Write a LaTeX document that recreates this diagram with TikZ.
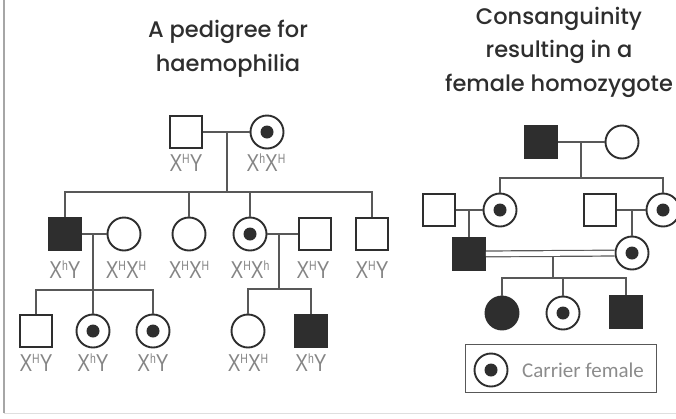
\documentclass[tikz,border=0pt]{standalone}
\usepackage{fontspec}
\setmainfont{Liberation Sans}
\IfFontExistsTF{Poppins Medium}
  {\newfontfamily\titlefont{Poppins Medium}}
  {\newfontfamily\titlefont{Poppins}}
\newfontfamily\labelfont{Liberation Sans}
\newfontfamily\keyfont{Carlito}
\definecolor{ink}{HTML}{2E2E2E}
\definecolor{genocol}{HTML}{858585}
% genotype text: X with a raised allele letter
\newcommand\al[1]{\raisebox{6.4pt}{\fontsize{11}{11}\selectfont #1}}
\newcommand\gt[1]{\scalebox{0.95}[1.22]{\labelfont\fontsize{20}{20}\selectfont #1}}
\begin{document}
\begin{tikzpicture}[x=1pt,y=-1pt,
  sym/.style={draw=ink, line width=1.9pt, inner sep=0pt},
  male/.style={sym, rectangle, minimum size=32pt},
  female/.style={sym, circle, minimum size=33pt},
  affected/.style={fill=ink},
  carrier/.style={female, path picture={\fill[ink] (path picture bounding box.center) circle (6.5pt);}},
  link/.style={draw=ink!80, line width=1.2pt},
  geno/.style={text=genocol, inner sep=0pt},
  title/.style={font=\titlefont\fontsize{22.5}{33.5}\selectfont, text=ink, align=center, inner sep=0pt}
]
\useasboundingbox (0,0) rectangle (676,418);
% frame
\draw[gray!70, line width=1.5pt] (4,0) -- (4,413);
\draw[gray!25, line width=1pt] (4,413) -- (676,413);

% ---------- haemophilia pedigree ----------
\node[title] (t1) at (228,49) {A pedigree for\\haemophilia};

% generation I
\node[male] (a1) at (186,132) {};
\node[carrier] (a2) at (267,132) {};
\draw[link] (a1) -- (a2);
\coordinate (m1) at (227,132);
\coordinate (s1) at (227,192);
\draw[link] (m1) -- (s1);
\node[geno] (la1) at (186,163) {\gt{X\al{H}Y}};
\node[geno] (la2) at (266,163) {\gt{X\al{h}X\al{H}}};

% generation II
\node[male, affected] (b1) at (65,234) {};
\node[female] (b2) at (124,234) {};
\node[female] (b3) at (189,234) {};
\node[carrier] (b4) at (250,234) {};
\node[male] (b5) at (315,234) {};
\node[male] (b6) at (372,234) {};
\draw[link] (b1.north) -- (b1.north |- s1) -- (b6.north |- s1) -- (b6.north);
\draw[link] (b3.north) -- (b3.north |- s1);
\draw[link] (b4.north) -- (b4.north |- s1);
\node[geno] (lb1) at (65,270) {\gt{X\al{h}Y}};
\node[geno] (lb2) at (126,270) {\gt{X\al{H}X\al{H}}};
\node[geno] (lb3) at (189,270) {\gt{X\al{H}X\al{H}}};
\node[geno] (lb4) at (250,270) {\gt{X\al{H}X\al{h}}};
\node[geno] (lb5) at (313,270) {\gt{X\al{H}Y}};
\node[geno] (lb6) at (372,270) {\gt{X\al{H}Y}};

% first marriage and children
\draw[link] (b1) -- (b2);
\coordinate (m2) at (93,234);
\coordinate (s2) at (93,290);
\draw[link] (m2) -- (s2);
\node[male] (c1) at (36,331) {};
\node[carrier] (c2) at (93,331) {};
\node[carrier] (c3) at (153,331) {};
\draw[link] (c1.north) -- (c1.north |- s2) -- (c3.north |- s2) -- (c3.north);
\draw[link] (s2) -- (c2.north);
\node[geno] (lc1) at (36,363) {\gt{X\al{H}Y}};
\node[geno] (lc2) at (93,363) {\gt{X\al{h}Y}};
\node[geno] (lc3) at (153,363) {\gt{X\al{h}Y}};

% second marriage and children
\draw[link] (b4) -- (b5);
\coordinate (m3) at (279,234);
\coordinate (s3) at (279,289);
\draw[link] (m3) -- (s3);
\node[female] (c4) at (248,331) {};
\node[male, affected] (c5) at (311,331) {};
\draw[link] (c4.north) -- (c4.north |- s3) -- (c5.north |- s3) -- (c5.north);
\node[geno] (lc4) at (248,363) {\gt{X\al{H}X\al{H}}};
\node[geno] (lc5) at (311,363) {\gt{X\al{h}Y}};

% ---------- consanguinity pedigree ----------
\node[title] (t2) at (559,52) {Consanguinity\\resulting in a\\female homozygote};

\node[male, affected] (d1) at (541,142) {};
\node[female] (d2) at (622,142) {};
\draw[link] (d1) -- (d2);
\coordinate (m4) at (581,142);
\coordinate (s4) at (581,178);
\draw[link] (m4) -- (s4);

\node[male] (e1) at (439,210) {};
\node[carrier] (e2) at (500,210) {};
\node[male] (e3) at (600,210) {};
\node[carrier] (e4) at (663,210) {};
\draw[link] (e2.north) -- (e2.north |- s4) -- (e4.north |- s4) -- (e4.north);
\draw[link] (e1) -- (e2);
\draw[link] (e3) -- (e4);

\node[male, affected] (f1) at (469,254) {};
\node[carrier] (f2) at (632,253) {};
\coordinate (m5) at (469,210);
\coordinate (m6) at (632,210);
\draw[link] (m5) -- (f1);
\draw[link] (m6) -- (f2);
\draw[link, double=white, double distance=4.6pt] (f1) -- (f2);

\coordinate (m7) at (553,257);
\coordinate (s5) at (553,278);
\draw[link] (m7) -- (s5);
\node[female, affected] (g1) at (502,313) {};
\node[carrier] (g2) at (563,313) {};
\node[male, affected] (g3) at (626,312) {};
\draw[link] (g1.north) -- (g1.north |- s5) -- (g3.north |- s5) -- (g3.north);
\draw[link] (g2.north) -- (g2.north |- s5);

% key
\node[draw=ink!80, line width=1.5pt, minimum width=191pt, minimum height=48pt, inner sep=0pt] (key) at (561,368.5) {};
\node[carrier] (k1) at (491,370) {};
\node[anchor=west, text=gray!90, font=\keyfont\fontsize{21}{21}\selectfont, inner sep=0pt] (k2) at (522,370) {Carrier female};
\end{tikzpicture}
\end{document}
